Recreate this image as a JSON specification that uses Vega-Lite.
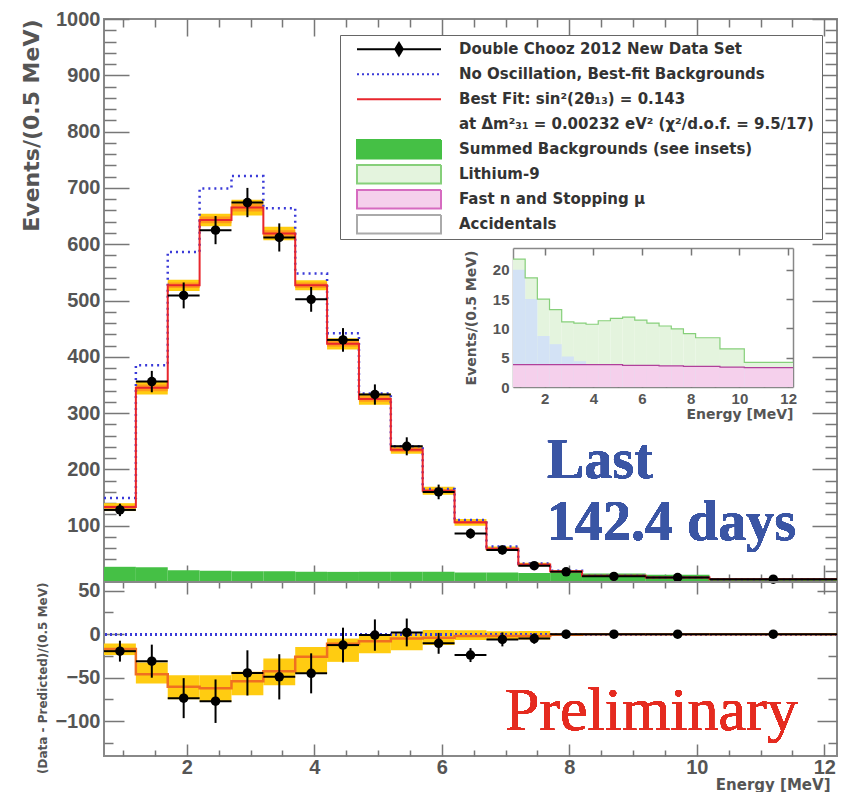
{
  "$schema": "https://vega.github.io/schema/vega-lite/v6.json",
  "background": "white",
  "padding": {"left": 20, "top": 9, "right": 7, "bottom": 0},
  "width": 733,
  "height": 737,
  "config": {
    "font": "Liberation Sans",
    "view": {"stroke": "#888", "strokeWidth": 2},
    "axis": {"grid": false, "domain": false, "tickColor": "#777", "tickWidth": 1.5, "labelFont": "Liberation Sans", "labelFontWeight": "bold", "labelColor": "#555", "titleFont": "DejaVu Sans", "titleFontWeight": "bold", "titleColor": "#555", "labelOverlap": false, "labelFlush": false}
  },
  "datasets": {
    "m": [
      {"lo":0.7,"hi":1.2,"c":0.95,"d":128,"de":11,"f":133,"flo":126,"fhi":140,"ilo":130,"ihi":136,"n":149,"b":27},
      {"lo":1.2,"hi":1.7,"c":1.45,"d":356,"de":19,"f":345,"flo":333,"fhi":357,"ilo":339,"ihi":351,"n":385,"b":26},
      {"lo":1.7,"hi":2.2,"c":1.95,"d":509,"de":23,"f":527,"flo":517,"fhi":537,"ilo":522,"ihi":532,"n":586,"b":21},
      {"lo":2.2,"hi":2.7,"c":2.45,"d":625,"de":25,"f":643,"flo":632,"fhi":654,"ilo":637,"ihi":649,"n":699,"b":20},
      {"lo":2.7,"hi":3.2,"c":2.95,"d":674,"de":26,"f":665,"flo":651,"fhi":679,"ilo":658,"ihi":672,"n":721,"b":19},
      {"lo":3.2,"hi":3.7,"c":3.45,"d":612,"de":25,"f":619,"flo":607,"fhi":631,"ilo":613,"ihi":625,"n":664,"b":19},
      {"lo":3.7,"hi":4.2,"c":3.95,"d":502,"de":22,"f":527,"flo":518,"fhi":536,"ilo":522,"ihi":532,"n":548,"b":18},
      {"lo":4.2,"hi":4.7,"c":4.45,"d":430,"de":21,"f":423,"flo":413,"fhi":433,"ilo":418,"ihi":428,"n":442,"b":18},
      {"lo":4.7,"hi":5.2,"c":4.95,"d":333,"de":18,"f":325,"flo":315,"fhi":335,"ilo":320,"ihi":330,"n":335,"b":18},
      {"lo":5.2,"hi":5.7,"c":5.45,"d":241,"de":16,"f":235,"flo":228,"fhi":242,"ilo":231,"ihi":239,"n":241,"b":18},
      {"lo":5.7,"hi":6.2,"c":5.95,"d":160,"de":13,"f":162,"flo":155,"fhi":169,"ilo":159,"ihi":165,"n":165,"b":18},
      {"lo":6.2,"hi":6.7,"c":6.45,"d":86,"de":9,"f":106,"flo":100,"fhi":112,"ilo":103,"ihi":109,"n":110,"b":17},
      {"lo":6.7,"hi":7.2,"c":6.95,"d":57,"de":8,"f":59,"flo":55,"fhi":63,"ilo":57,"ihi":61,"n":63,"b":17},
      {"lo":7.2,"hi":7.7,"c":7.45,"d":29,"de":6,"f":31,"flo":28,"fhi":34,"ilo":30,"ihi":32,"n":33,"b":16},
      {"lo":7.7,"hi":8.2,"c":7.95,"d":18,"de":4,"f":19,"flo":17,"fhi":21,"ilo":18,"ihi":20,"n":20,"b":16},
      {"lo":8.2,"hi":9.2,"c":8.7,"d":10,"de":3,"f":11,"flo":10,"fhi":12,"ilo":10.5,"ihi":11.5,"n":11,"b":15},
      {"lo":9.2,"hi":10.2,"c":9.7,"d":8,"de":3,"f":8,"flo":7,"fhi":9,"ilo":7.5,"ihi":8.5,"n":8,"b":13},
      {"lo":10.2,"hi":12.2,"c":11.2,"d":5,"de":2,"f":5,"flo":4,"fhi":6,"ilo":4.5,"ihi":5.5,"n":5,"b":6}
    ],
    "r": [
      {"lo":0.7,"hi":1.2,"c":0.95,"r":-19.5,"re":12,"fr":-17,"blo":-24,"bhi":-10.7},
      {"lo":1.2,"hi":1.7,"c":1.45,"r":-31,"re":19,"fr":-46,"blo":-56.6,"bhi":-32.6},
      {"lo":1.7,"hi":2.2,"c":1.95,"r":-73.5,"re":23,"fr":-60.5,"blo":-74.8,"bhi":-47.2},
      {"lo":2.2,"hi":2.7,"c":2.45,"r":-77,"re":25,"fr":-62,"blo":-77.7,"bhi":-47.1},
      {"lo":2.7,"hi":3.2,"c":2.95,"r":-44.5,"re":26,"fr":-54,"blo":-70.1,"bhi":-43.3},
      {"lo":3.2,"hi":3.7,"c":3.45,"r":-49,"re":26,"fr":-42.5,"blo":-58.6,"bhi":-28},
      {"lo":3.7,"hi":4.2,"c":3.95,"r":-45,"re":23,"fr":-26,"blo":-45.2,"bhi":-14.6},
      {"lo":4.2,"hi":4.7,"c":4.45,"r":-12.5,"re":20,"fr":-11,"blo":-31.8,"bhi":-5},
      {"lo":4.7,"hi":5.2,"c":4.95,"r":-1,"re":18,"fr":-8,"blo":-22,"bhi":-1},
      {"lo":5.2,"hi":5.7,"c":5.45,"r":2,"re":16,"fr":-5,"blo":-18.4,"bhi":0.8},
      {"lo":5.7,"hi":6.2,"c":5.95,"r":-10.5,"re":12,"fr":-4,"blo":-12.4,"bhi":4.8},
      {"lo":6.2,"hi":6.7,"c":6.45,"r":-24,"re":8,"fr":-2,"blo":-6.8,"bhi":4.6},
      {"lo":6.7,"hi":7.2,"c":6.95,"r":-6,"re":8,"fr":-2,"blo":-6.5,"bhi":3.5},
      {"lo":7.2,"hi":7.7,"c":7.45,"r":-5,"re":6,"fr":-2,"blo":-6,"bhi":3.6},
      {"lo":7.7,"hi":8.2,"c":7.95,"r":0,"re":5,"fr":-0.5,"blo":-2,"bhi":1},
      {"lo":8.2,"hi":9.2,"c":8.7,"r":0,"re":3,"fr":0,"blo":-1,"bhi":1},
      {"lo":9.2,"hi":10.2,"c":9.7,"r":0,"re":3,"fr":0,"blo":-1,"bhi":1},
      {"lo":10.2,"hi":12.2,"c":11.2,"r":0,"re":2,"fr":0,"blo":-1,"bhi":1}
    ],
    "ins": [
      {"lo":0.7,"hi":1.2,"t":21.8,"a":20,"p":3.8},
      {"lo":1.2,"hi":1.7,"t":18.6,"a":15,"p":3.8},
      {"lo":1.7,"hi":2.2,"t":15,"a":8.7,"p":3.8},
      {"lo":2.2,"hi":2.7,"t":13.2,"a":7.3,"p":3.8},
      {"lo":2.7,"hi":3.2,"t":11.1,"a":5.2,"p":3.8},
      {"lo":3.2,"hi":3.7,"t":10.9,"a":4.4,"p":3.8},
      {"lo":3.7,"hi":4.2,"t":10.7,"a":3.9,"p":3.8},
      {"lo":4.2,"hi":4.7,"t":11.3,"a":3.8,"p":3.8},
      {"lo":4.7,"hi":5.2,"t":11.7,"a":3.8,"p":3.8},
      {"lo":5.2,"hi":5.7,"t":11.9,"a":3.7,"p":3.7},
      {"lo":5.7,"hi":6.2,"t":11.4,"a":3.7,"p":3.7},
      {"lo":6.2,"hi":6.7,"t":10.9,"a":3.7,"p":3.7},
      {"lo":6.7,"hi":7.2,"t":10.4,"a":3.6,"p":3.6},
      {"lo":7.2,"hi":7.7,"t":9.9,"a":3.6,"p":3.6},
      {"lo":7.7,"hi":8.2,"t":9.1,"a":3.5,"p":3.5},
      {"lo":8.2,"hi":9.2,"t":8.4,"a":3.5,"p":3.5},
      {"lo":9.2,"hi":10.2,"t":6.5,"a":3.4,"p":3.4},
      {"lo":10.2,"hi":12.2,"t":4.2,"a":3.3,"p":3.3}
    ],
    "leg": [
      {"item":"Double Chooz 2012 New Data Set"},
      {"item":"No Oscillation, Best-fit Backgrounds"},
      {"item":"Best Fit: sin²(2θ₁₃) = 0.143"},
      {"item":" at Δm²₃₁ = 0.00232 eV²  (χ²/d.o.f. = 9.5/17)"},
      {"item":"Summed Backgrounds (see insets)"},
      {"item":"Lithium-9"},
      {"item":"Fast n and Stopping μ"},
      {"item":"Accidentals"}
    ]
  },
  "resolve": {"scale": {"x": "independent", "y": "independent"}, "axis": {"x": "independent", "y": "independent"}},
  "layer": [
    {
      "data": {"name": "m"},
      "resolve": {"axis": {"x": "independent", "y": "independent"}},
      "layer": [
        {
          "mark": {"type": "rect", "color": "#45c045"},
          "encoding": {
            "x": {"field": "lo", "type": "quantitative", "scale": {"domain": [0.7, 12.2], "nice": false, "zero": false},
              "axis": {"orient": "top", "offset": -17, "tickSize": 17, "values": [2,4,6,8,10,12], "labels": false, "title": null}},
            "x2": {"field": "hi"},
            "y": {"field": "b", "type": "quantitative", "scale": {"domain": [0, 1000], "range": [563, 0], "nice": false},
              "axis": {"orient": "right", "offset": -25, "tickSize": 25, "values": [100,200,300,400,500,600,700,800,900,1000], "labels": false, "title": null}},
            "y2": {"datum": 0}
          }
        },
        {
          "mark": {"type": "rect", "color": "#ffcc11"},
          "encoding": {
            "x": {"field": "lo", "type": "quantitative", "scale": {"domain": [0.7, 12.2], "nice": false, "zero": false},
              "axis": {"orient": "bottom", "offset": -191, "tickSize": 17, "values": [2,4,6,8,10,12], "labels": false, "title": null}},
            "x2": {"field": "hi"},
            "y": {"field": "flo", "type": "quantitative", "scale": {"domain": [0, 1000], "range": [563, 0], "nice": false},
              "axis": {"orient": "left", "offset": -25, "tickSize": 25, "values": [100,200,300,400,500,600,700,800,900,1000],
                "format": "d", "labelFontSize": 20, "labelPadding": 4,
                "title": "Events/(0.5 MeV)", "titleFontSize": 22, "titleAnchor": "end", "titlePadding": 12}},
            "y2": {"field": "fhi"}
          }
        },
        {
          "mark": {"type": "rect", "color": "#ff9a1a"},
          "encoding": {
            "x": {"field": "lo", "type": "quantitative",
              "axis": {"orient": "bottom", "offset": -182, "tickSize": 8, "values": [1,1.5,2.5,3,3.5,4.5,5,5.5,6.5,7,7.5,8.5,9,9.5,10.5,11,11.5], "labels": false, "title": null}},
            "x2": {"field": "hi"},
            "y": {"field": "ilo", "type": "quantitative",
              "axis": {"orient": "left", "offset": -12, "tickSize": 12, "values": [20,40,60,80,120,140,160,180,220,240,260,280,320,340,360,380,420,440,460,480,520,540,560,580,620,640,660,680,720,740,760,780,820,840,860,880,920,940,960,980], "labels": false, "title": null}},
            "y2": {"field": "ihi"}
          }
        },
        {
          "transform": [{"fold": ["lo", "hi"], "as": ["edge", "ex"]}],
          "mark": {"type": "line", "color": "#3a3ad8", "strokeWidth": 2.5, "strokeDash": [2, 4]},
          "encoding": {
            "x": {"field": "ex", "type": "quantitative", "axis": null},
            "y": {"field": "n", "type": "quantitative", "axis": null},
            "order": [{"field": "lo", "type": "quantitative"}, {"field": "edge", "type": "ordinal"}]
          }
        },
        {
          "transform": [{"fold": ["lo", "hi"], "as": ["edge", "ex"]}],
          "mark": {"type": "line", "color": "#e8262d", "strokeWidth": 2},
          "encoding": {
            "x": {"field": "ex", "type": "quantitative", "axis": null},
            "y": {"field": "f", "type": "quantitative", "axis": null},
            "order": [{"field": "lo", "type": "quantitative"}, {"field": "edge", "type": "ordinal"}]
          }
        },
        {
          "mark": {"type": "rule", "color": "black", "strokeWidth": 2},
          "encoding": {
            "x": {"field": "lo", "type": "quantitative",
              "axis": {"orient": "top", "offset": -8, "tickSize": 8, "values": [1,1.5,2.5,3,3.5,4.5,5,5.5,6.5,7,7.5,8.5,9,9.5,10.5,11,11.5], "labels": false, "title": null}},
            "x2": {"field": "hi"},
            "y": {"field": "d", "type": "quantitative",
              "axis": {"orient": "right", "offset": -12, "tickSize": 12, "values": [20,40,60,80,120,140,160,180,220,240,260,280,320,340,360,380,420,440,460,480,520,540,560,580,620,640,660,680,720,740,760,780,820,840,860,880,920,940,960,980], "labels": false, "title": null}}
          }
        },
        {
          "mark": {"type": "errorbar", "color": "black", "thickness": 2},
          "encoding": {
            "x": {"field": "c", "type": "quantitative", "axis": null},
            "y": {"field": "d", "type": "quantitative", "axis": null},
            "yError": {"field": "de"}
          }
        },
        {
          "mark": {"type": "circle", "color": "black", "size": 90, "opacity": 1},
          "encoding": {
            "x": {"field": "c", "type": "quantitative", "axis": null},
            "y": {"field": "d", "type": "quantitative", "axis": null}
          }
        },
        {
          "mark": {"type": "rule", "color": "#888", "strokeWidth": 2},
          "encoding": {"y": {"datum": 0, "type": "quantitative", "axis": null}}
        },
        {
          "mark": {"type": "text", "font": "Liberation Serif", "fontWeight": "bold", "fontSize": 56, "color": "#3a55a4", "align": "left", "baseline": "alphabetic", "text": "Last"},
          "encoding": {
            "x": {"datum": 7.65, "type": "quantitative", "axis": null},
            "y": {"datum": 184.7, "type": "quantitative", "axis": null}
          }
        },
        {
          "mark": {"type": "text", "font": "Liberation Serif", "fontWeight": "bold", "fontSize": 56, "color": "#3a55a4", "align": "left", "baseline": "alphabetic", "text": "142.4 days"},
          "encoding": {
            "x": {"datum": 7.65, "type": "quantitative", "axis": null},
            "y": {"datum": 74.6, "type": "quantitative", "axis": null}
          }
        },
        {
          "data": {"name": "leg"},
          "mark": {"type": "point", "clip": true, "size": 10},
          "encoding": {
            "x": {"datum": 30, "type": "quantitative", "axis": null},
            "y": {"datum": 500, "type": "quantitative", "axis": null},
            "shape": {"field": "item", "type": "nominal",
              "scale": {"domain": ["Double Chooz 2012 New Data Set","No Oscillation, Best-fit Backgrounds","Best Fit: sin²(2θ₁₃) = 0.143"," at Δm²₃₁ = 0.00232 eV²  (χ²/d.o.f. = 9.5/17)","Summed Backgrounds (see insets)","Lithium-9","Fast n and Stopping μ","Accidentals"],
                "range": ["M-1,0H1M0,-0.15L0.09,0L0,0.15L-0.09,0Z","M-1,0H1","M-1,0H1","M-1,0H1","M-1,-0.22H1V0.22H-1Z","M-1,-0.22H1V0.22H-1Z","M-1,-0.22H1V0.22H-1Z","M-1,-0.22H1V0.22H-1Z"]},
              "legend": {"orient": "none", "legendX": 236, "legendY": 16, "title": null, "padding": 2, "strokeColor": "#666", "fillColor": "white", "labelFont": "DejaVu Sans", "labelFontWeight": "bold", "labelFontSize": 15, "labelColor": "#333", "symbolSize": 7056, "symbolStrokeWidth": 2, "symbolOffset": 14, "labelOffset": 17, "clipHeight": 24.3, "rowPadding": 0, "symbolOpacity": 1, "labelLimit": 600}},
            "fill": {"field": "item", "type": "nominal",
              "scale": {"domain": ["Double Chooz 2012 New Data Set","No Oscillation, Best-fit Backgrounds","Best Fit: sin²(2θ₁₃) = 0.143"," at Δm²₃₁ = 0.00232 eV²  (χ²/d.o.f. = 9.5/17)","Summed Backgrounds (see insets)","Lithium-9","Fast n and Stopping μ","Accidentals"],
                "range": ["black","transparent","transparent","transparent","#45c045","#e4f4de","#f5d0ec","white"]},
              "legend": {"orient": "none", "legendX": 236, "legendY": 16, "title": null, "padding": 2, "strokeColor": "#666", "fillColor": "white", "labelFont": "DejaVu Sans", "labelFontWeight": "bold", "labelFontSize": 15, "labelColor": "#333", "symbolSize": 7056, "symbolStrokeWidth": 2, "symbolOffset": 14, "labelOffset": 17, "clipHeight": 24.3, "rowPadding": 0, "symbolOpacity": 1, "labelLimit": 600}},
            "stroke": {"field": "item", "type": "nominal",
              "scale": {"domain": ["Double Chooz 2012 New Data Set","No Oscillation, Best-fit Backgrounds","Best Fit: sin²(2θ₁₃) = 0.143"," at Δm²₃₁ = 0.00232 eV²  (χ²/d.o.f. = 9.5/17)","Summed Backgrounds (see insets)","Lithium-9","Fast n and Stopping μ","Accidentals"],
                "range": ["black","#3a3ad8","#e8262d","transparent","#45c045","#86cf7a","#d66bc0","#aaa"]},
              "legend": {"orient": "none", "legendX": 236, "legendY": 16, "title": null, "padding": 2, "strokeColor": "#666", "fillColor": "white", "labelFont": "DejaVu Sans", "labelFontWeight": "bold", "labelFontSize": 15, "labelColor": "#333", "symbolSize": 7056, "symbolStrokeWidth": 2, "symbolOffset": 14, "labelOffset": 17, "clipHeight": 24.3, "rowPadding": 0, "symbolOpacity": 1, "labelLimit": 600}},
            "strokeDash": {"field": "item", "type": "nominal",
              "scale": {"domain": ["Double Chooz 2012 New Data Set","No Oscillation, Best-fit Backgrounds","Best Fit: sin²(2θ₁₃) = 0.143"," at Δm²₃₁ = 0.00232 eV²  (χ²/d.o.f. = 9.5/17)","Summed Backgrounds (see insets)","Lithium-9","Fast n and Stopping μ","Accidentals"],
                "range": [[1,0],[2,3],[1,0],[1,0],[1,0],[1,0],[1,0],[1,0]]},
              "legend": {"orient": "none", "legendX": 236, "legendY": 16, "title": null, "padding": 2, "strokeColor": "#666", "fillColor": "white", "labelFont": "DejaVu Sans", "labelFontWeight": "bold", "labelFontSize": 15, "labelColor": "#333", "symbolSize": 7056, "symbolStrokeWidth": 2, "symbolOffset": 14, "labelOffset": 17, "clipHeight": 24.3, "rowPadding": 0, "symbolOpacity": 1, "labelLimit": 600}}
          }
        }
      ]
    },
    {
      "data": {"name": "ins"},
      "resolve": {"axis": {"x": "independent", "y": "independent"}},
      "layer": [
        {
          "mark": {"type": "rect", "color": "#e4f4de"},
          "encoding": {
            "x": {"field": "lo", "type": "quantitative", "scale": {"domain": [0.7, 12.2], "range": [409, 689], "nice": false, "zero": false},
              "axis": {"orient": "bottom", "offset": -369, "ticks": false, "values": [2,4,6,8,10,12], "labelFontSize": 15, "labelPadding": 4, "domain": true, "domainColor": "#888", "domainWidth": 1.5,
                "title": "Energy [MeV]", "titleFontSize": 14, "titleAnchor": "end", "titlePadding": 1}},
            "x2": {"field": "hi"},
            "y": {"field": "t", "type": "quantitative", "scale": {"domain": [0, 23.7], "range": [368, 229], "nice": false},
              "axis": {"orient": "left", "offset": -409, "ticks": false, "values": [0,5,10,15,20], "labelFontSize": 15, "labelPadding": 4, "domain": true, "domainColor": "#888", "domainWidth": 1.5,
                "title": "Events/(0.5 MeV)", "titleFontSize": 14, "titlePadding": 14}},
            "y2": {"datum": 0}
          }
        },
        {
          "mark": {"type": "rect", "color": "#d3e2f5"},
          "encoding": {
            "x": {"field": "lo", "type": "quantitative",
              "axis": {"orient": "bottom", "offset": -376, "tickSize": 7, "values": [2,4,6,8,10,12], "labels": false, "title": null}},
            "x2": {"field": "hi"},
            "y": {"field": "a", "type": "quantitative",
              "axis": {"orient": "left", "offset": -416, "tickSize": 7, "values": [5,10,15,20], "labels": false, "title": null}},
            "y2": {"datum": 0}
          }
        },
        {
          "mark": {"type": "rect", "color": "#f5d0ec"},
          "encoding": {
            "x": {"field": "lo", "type": "quantitative",
              "axis": {"orient": "top", "offset": -229, "ticks": false, "labels": false, "domain": true, "domainColor": "#888", "domainWidth": 1.5, "title": null}},
            "x2": {"field": "hi"},
            "y": {"field": "p", "type": "quantitative",
              "axis": {"orient": "right", "offset": -44, "ticks": false, "labels": false, "domain": true, "domainColor": "#888", "domainWidth": 1.5, "title": null}},
            "y2": {"datum": 0}
          }
        },
        {
          "transform": [{"fold": ["lo", "hi"], "as": ["edge", "ex"]}],
          "mark": {"type": "line", "color": "#86cf7a", "strokeWidth": 1.2},
          "encoding": {
            "x": {"field": "ex", "type": "quantitative",
              "axis": {"orient": "top", "offset": -236, "tickSize": 7, "values": [2,4,6,8,10,12], "labels": false, "title": null}},
            "y": {"field": "t", "type": "quantitative",
              "axis": {"orient": "right", "offset": -51, "tickSize": 7, "values": [5,10,15,20], "labels": false, "title": null}},
            "order": [{"field": "lo", "type": "quantitative"}, {"field": "edge", "type": "ordinal"}]
          }
        },
        {
          "transform": [{"fold": ["lo", "hi"], "as": ["edge", "ex"]}],
          "mark": {"type": "line", "color": "#b0409a", "strokeWidth": 1.2},
          "encoding": {
            "x": {"field": "ex", "type": "quantitative",
              "axis": {"orient": "bottom", "offset": -373, "tickSize": 4, "values": [1,3,5,7,9,11], "labels": false, "title": null}},
            "y": {"field": "p", "type": "quantitative", "axis": null},
            "order": [{"field": "lo", "type": "quantitative"}, {"field": "edge", "type": "ordinal"}]
          }
        }
      ]
    },
    {
      "data": {"name": "r"},
      "resolve": {"axis": {"x": "independent", "y": "independent"}},
      "layer": [
        {
          "mark": {"type": "rect", "color": "#ffcc11"},
          "encoding": {
            "x": {"field": "lo", "type": "quantitative", "scale": {"domain": [0.7, 12.2], "nice": false, "zero": false},
              "axis": {"orient": "bottom", "offset": -12, "tickSize": 12, "values": [2,4,6,8,10,12], "format": "d", "labelFontSize": 20, "labelPadding": 1,
                "title": "Energy [MeV]", "titleFontSize": 15, "titleAnchor": "end", "titleX": 726, "titlePadding": 0}},
            "x2": {"field": "hi"},
            "y": {"field": "blo", "type": "quantitative", "scale": {"domain": [-140, 60], "range": [737, 563], "nice": false, "zero": false},
              "axis": {"orient": "left", "offset": -20, "tickSize": 20, "values": [-100,-50,0,50], "labelFontSize": 20, "labelPadding": 4,
                "title": "(Data - Predicted)/(0.5 MeV)", "titleFontSize": 12, "titleAnchor": "end", "titlePadding": 5}},
            "y2": {"field": "bhi"}
          }
        },
        {
          "mark": {"type": "rule", "color": "#3a3ad8", "strokeWidth": 2, "strokeDash": [2, 3]},
          "encoding": {"y": {"datum": 0, "type": "quantitative", "axis": null}}
        },
        {
          "transform": [{"fold": ["lo", "hi"], "as": ["edge", "ex"]}],
          "mark": {"type": "line", "color": "#f07020", "strokeWidth": 2.5},
          "encoding": {
            "x": {"field": "ex", "type": "quantitative",
              "axis": {"orient": "bottom", "offset": -6, "tickSize": 6, "values": [1,1.5,2.5,3,3.5,4.5,5,5.5,6.5,7,7.5,8.5,9,9.5,10.5,11,11.5], "labels": false, "title": null}},
            "y": {"field": "fr", "type": "quantitative",
              "axis": {"orient": "left", "offset": -9, "tickSize": 9, "values": [-125,-75,-25,25], "labels": false, "title": null}},
            "order": [{"field": "lo", "type": "quantitative"}, {"field": "edge", "type": "ordinal"}]
          }
        },
        {
          "mark": {"type": "rule", "color": "black", "strokeWidth": 2},
          "encoding": {
            "x": {"field": "lo", "type": "quantitative",
              "axis": {"orient": "top", "offset": -575, "tickSize": 12, "values": [2,4,6,8,10,12], "labels": false, "title": null}},
            "x2": {"field": "hi"},
            "y": {"field": "r", "type": "quantitative",
              "axis": {"orient": "right", "offset": -20, "tickSize": 20, "values": [-100,-50,0,50], "labels": false, "title": null}}
          }
        },
        {
          "mark": {"type": "errorbar", "color": "black", "thickness": 2},
          "encoding": {
            "x": {"field": "c", "type": "quantitative", "axis": null},
            "y": {"field": "r", "type": "quantitative", "axis": null},
            "yError": {"field": "re"}
          }
        },
        {
          "mark": {"type": "circle", "color": "black", "size": 90, "opacity": 1},
          "encoding": {
            "x": {"field": "c", "type": "quantitative",
              "axis": {"orient": "top", "offset": -569, "tickSize": 6, "values": [1,1.5,2.5,3,3.5,4.5,5,5.5,6.5,7,7.5,8.5,9,9.5,10.5,11,11.5], "labels": false, "title": null}},
            "y": {"field": "r", "type": "quantitative",
              "axis": {"orient": "right", "offset": -9, "tickSize": 9, "values": [-125,-75,-25,25], "labels": false, "title": null}}
          }
        },
        {
          "mark": {"type": "text", "font": "Liberation Serif", "fontSize": 62, "color": "#e52b20", "align": "left", "baseline": "alphabetic", "text": "Preliminary"},
          "encoding": {
            "x": {"datum": 6.99, "type": "quantitative", "axis": null},
            "y": {"datum": -110, "type": "quantitative", "axis": null}
          }
        }
      ]
    }
  ]
}
